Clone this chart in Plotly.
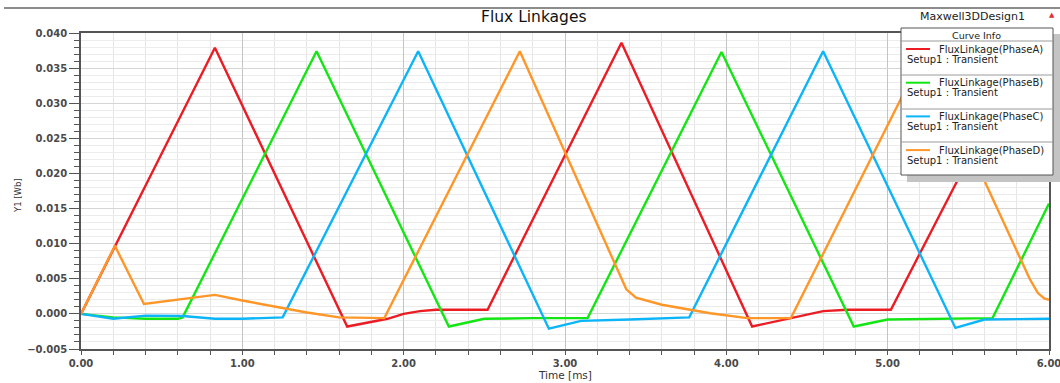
import plotly.graph_objects as go

# ---------------- data ----------------
t_a = [0.0, 0.83, 1.65, 1.72, 1.90, 2.00, 2.10, 2.20, 2.52, 3.35, 4.16, 4.22, 4.40, 4.60, 4.75, 5.02, 5.87, 6.0]
v_a = [0.0, 0.0379, -0.0018, -0.0015, -0.0007, 0.0000, 0.0004, 0.0006, 0.0006, 0.0386, -0.0018, -0.0015, -0.0006, 0.0004, 0.0006, 0.0006, 0.0385, 0.0322]

t_b = [0.0, 0.20, 0.40, 0.60, 0.63, 1.46, 2.28, 2.50, 2.80, 3.14, 3.97, 4.79, 5.00, 5.30, 5.65, 6.0]
v_b = [0.0, -0.0005, -0.0007, -0.0007, -0.0005, 0.0374, -0.0018, -0.0007, -0.0006, -0.0006, 0.0373, -0.0018, -0.0008, -0.0007, -0.0006, 0.0157]

t_c = [0.0, 0.20, 0.40, 0.63, 0.83, 1.00, 1.25, 2.09, 2.90, 3.10, 3.40, 3.77, 4.60, 5.42, 5.60, 6.0]
v_c = [0.0, -0.0007, -0.00025, -0.0003, -0.0007, -0.0007, -0.0005, 0.0374, -0.0021, -0.0010, -0.0008, -0.0005, 0.0374, -0.0020, -0.0008, -0.0007]

t_d = [0.0, 0.21, 0.39, 0.60, 0.83, 1.00, 1.20, 1.40, 1.60, 1.88, 2.72, 3.38, 3.44, 3.60, 3.90, 4.13, 4.40, 5.23, 5.88, 5.93, 5.97, 6.0]
v_d = [0.0, 0.0097, 0.0014, 0.0020, 0.0027, 0.0019, 0.0010, 0.0002, -0.0005, -0.0006, 0.0374, 0.0035, 0.0023, 0.0013, 0.0001, -0.0006, -0.0006, 0.0374, 0.0050, 0.0030, 0.0022, 0.0020]

names = ["FluxLinkage(PhaseA)", "FluxLinkage(PhaseB)", "FluxLinkage(PhaseC)", "FluxLinkage(PhaseD)"]
setup_label = "Setup1 : Transient"
colors = ["#ec1c24", "#14e614", "#0cb4f8", "#ff9628"]
series = [(t_a, v_a), (t_b, v_b), (t_c, v_c), (t_d, v_d)]

title_text = "Flux Linkages"
design_text = "Maxwell3DDesign1"
x_title = "Time [ms]"
y_title = "Y1 [Wb]"

# ---------------- figure ----------------
W, H = 1060, 383
L, R, T, B = 81, 1049, 33, 349   # plot area in pixels
FONT = "DejaVu Sans, Verdana, sans-serif"


def px(x):
    return (x - L) / (R - L)


def py(y):
    return (B - y) / (B - T)


fig = go.Figure()
for (tt, vv), nm, col in zip(series, names, colors):
    fig.add_trace(go.Scatter(x=tt, y=vv, mode="lines", name=nm,
                             line=dict(color=col, width=2.4), showlegend=False,
                             hoverinfo="x+y+name"))

tickfont = dict(family=FONT, size=10, color="#4a4a4a", weight="bold")

fig.update_layout(
    width=W, height=H,
    margin=dict(l=L, r=W - R, t=T, b=H - B, autoexpand=False),
    paper_bgcolor="white", plot_bgcolor="white",
    font=dict(family=FONT, color="#222"),
    xaxis=dict(range=[0, 6], dtick=1, tickformat=".2f", tickfont=tickfont, automargin=False,
               ticklabeloverflow="allow",
               showline=True, linecolor="#555", linewidth=1.5, mirror=True,
               ticks="outside", ticklen=4, tickcolor="#555",
               showgrid=True, gridcolor="#c4c4c4", gridwidth=1, zeroline=False,
               minor=dict(dtick=0.2, ticks="outside", ticklen=4, tickcolor="#555",
                          showgrid=True, gridcolor="#e6e6e6", gridwidth=1)),
    yaxis=dict(range=[-0.005, 0.040], dtick=0.005, tickformat=".3f", tickfont=tickfont, automargin=False,
               ticklabeloverflow="allow",
               showline=True, linecolor="#555", linewidth=1.5, mirror=True,
               ticks="outside", ticklen=10, tickcolor="#555",
               showgrid=True, gridcolor="#d6d6d6", gridwidth=1, zeroline=False,
               minor=dict(dtick=0.001, ticks="outside", ticklen=5, tickcolor="#555",
                          showgrid=True, gridcolor="#ececec", gridwidth=1)),
)

shapes = []
annotations = []

# axis titles
annotations.append(dict(text=x_title, xref="paper", yref="paper", x=px(565), y=py(375),
                        showarrow=False, xanchor="center", yanchor="middle",
                        font=dict(family=FONT, size=10.5, color="#333")))
annotations.append(dict(text=y_title, xref="paper", yref="paper", x=px(18), y=py(195),
                        showarrow=False, xanchor="center", yanchor="middle", textangle=-90,
                        font=dict(family=FONT, size=8.5, color="#333")))

# top band line
shapes.append(dict(type="line", xref="paper", yref="paper", x0=px(4), x1=px(1060), y0=py(8), y1=py(8),
                   line=dict(color="#8c8c8c", width=2), layer="above"))

annotations.append(dict(text=title_text, xref="paper", yref="paper", x=px(534), y=py(17),
                        showarrow=False, xanchor="center", yanchor="middle",
                        font=dict(family=FONT, size=15.5, color="#111")))
annotations.append(dict(text=design_text, xref="paper", yref="paper", x=px(972), y=py(17),
                        showarrow=False, xanchor="center", yanchor="middle",
                        font=dict(family=FONT, size=11, color="#222")))
annotations.append(dict(text="▲", xref="paper", yref="paper", x=px(1052), y=py(15),
                        showarrow=False, xanchor="center", yanchor="middle",
                        font=dict(size=7, color="#e23030")))

# legend box (Curve Info)
bx0, bx1, by0, by1 = 901, 1053, 28, 175
shapes.append(dict(type="rect", xref="paper", yref="paper", x0=px(bx0 + 6), x1=px(bx1 + 7),
                   y0=py(by0 + 6), y1=py(by1 + 7), fillcolor="#c4c4c4", line=dict(width=0), layer="above"))
shapes.append(dict(type="rect", xref="paper", yref="paper", x0=px(bx0), x1=px(bx1),
                   y0=py(by0), y1=py(by1), fillcolor="white", line=dict(color="#555", width=1), layer="above"))
annotations.append(dict(text="Curve Info", xref="paper", yref="paper", x=px(976), y=py(35),
                        showarrow=False, xanchor="center", yanchor="middle",
                        font=dict(family=FONT, size=9.5, color="#222")))
for yy in [41, 75, 109, 142]:
    shapes.append(dict(type="line", xref="paper", yref="paper", x0=px(bx0), x1=px(bx1),
                       y0=py(yy), y1=py(yy), line=dict(color="#9a9a9a", width=1), layer="above"))
for i, (nm, col) in enumerate(zip(names, colors)):
    y1 = 49 + i * 33.7
    shapes.append(dict(type="line", xref="paper", yref="paper", x0=px(906), x1=px(930),
                       y0=py(y1), y1=py(y1), line=dict(color=col, width=2), layer="above"))
    annotations.append(dict(text=nm, xref="paper", yref="paper", x=px(937), y=py(y1),
                            showarrow=False, xanchor="left", yanchor="middle",
                            font=dict(family=FONT, size=10, color="#222")))
    annotations.append(dict(text=setup_label, xref="paper", yref="paper", x=px(905), y=py(y1 + 10),
                            showarrow=False, xanchor="left", yanchor="middle",
                            font=dict(family=FONT, size=10, color="#222")))

fig.update_layout(shapes=shapes, annotations=annotations)
fig.write_html("out.html")
